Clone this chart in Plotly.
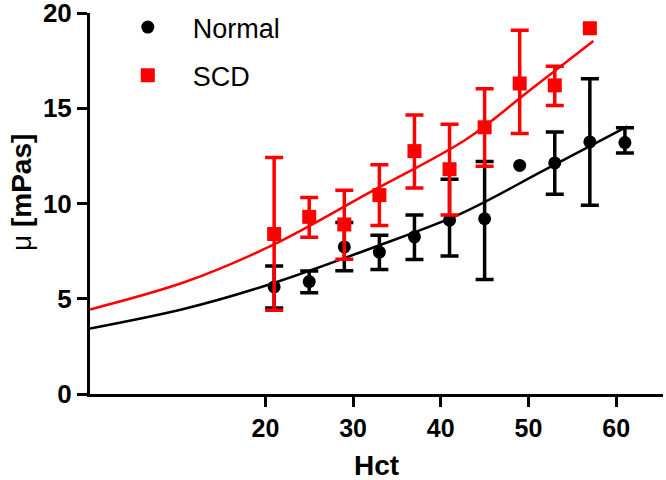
import plotly.graph_objects as go

# ---- data ----
hct_normal = [21, 25, 29, 33, 37, 41, 45, 49, 53, 57, 61]
mu_normal = [5.62, 5.9, 7.72, 7.45, 8.25, 9.12, 9.2, 12.0, 12.13, 13.23, 13.2]
err_up_normal = [1.1, 0.56, 1.28, 0.88, 1.14, 2.15, 3.0, None, 1.62, 3.32, 0.78]
err_dn_normal = [1.1, 0.58, 1.25, 0.91, 1.19, 1.87, 3.19, None, 1.64, 3.32, 0.55]

hct_scd = [21, 25, 29, 33, 37, 41, 45, 49, 53, 57]
mu_scd = [8.4, 9.3, 8.9, 10.44, 12.75, 11.8, 14.0, 16.3, 16.2, 19.2]
err_up_scd = [4.02, 1.02, 1.8, 1.6, 1.9, 2.36, 2.03, 2.8, 1.0, None]
err_dn_scd = [4.0, 1.07, 1.83, 1.6, 1.93, 2.41, 2.04, 2.62, 1.05, None]

# fitted curves
fit_x_normal = [0, 10.9, 20.7, 32, 42.3, 51.8, 61.3]
fit_y_normal = [3.44, 4.49, 5.79, 7.64, 9.47, 11.75, 14.05]
fit_x_scd = [0, 10.9, 20.8, 32, 43, 49.9, 57.4]
fit_y_scd = [4.44, 5.89, 7.81, 10.61, 13.4, 15.85, 18.53]

x_ticks = [20, 30, 40, 50, 60]
y_ticks = [0, 5, 10, 15, 20]

RED = "#ff0000"
BLACK = "#000000"
FONT = "Arial, Liberation Sans, sans-serif"

W, H = 666, 480
ML, MR, MT, MB = 90, 3, 13, 86
X_MAX = 65 * (W - ML - MR) / 570.0  # keep the reference's px-per-unit scale

plot_w = W - ML - MR
plot_h = H - MT - MB


def split(xs, ys, up, dn):
    """Points with error bars, and points shown without error bars."""
    with_err = [i for i in range(len(xs)) if up[i] is not None]
    no_err = [i for i in range(len(xs)) if up[i] is None]
    a = ([xs[i] for i in with_err], [ys[i] for i in with_err],
         [up[i] for i in with_err], [dn[i] for i in with_err])
    b = ([xs[i] for i in no_err], [ys[i] for i in no_err])
    return a, b


fig = go.Figure()


def add_series(name, group, xs, ys, up, dn, color, symbol, size):
    (ex, ey, eu, ed), (nx, ny) = split(xs, ys, up, dn)
    fig.add_trace(go.Scatter(
        x=ex, y=ey, mode="markers", name=name, legendgroup=group,
        marker=dict(symbol=symbol, size=size, color=color),
        error_y=dict(type="data", array=eu, arrayminus=ed, symmetric=False,
                     color=color, thickness=3.5, width=9),
    ))
    fig.add_trace(go.Scatter(
        x=nx, y=ny, mode="markers", name=name, legendgroup=group, showlegend=False,
        marker=dict(symbol=symbol, size=size, color=color),
    ))


add_series("Normal", "n", hct_normal, mu_normal, err_up_normal, err_dn_normal,
           BLACK, "circle", 13)
fig.add_trace(go.Scatter(
    x=fit_x_normal, y=fit_y_normal, mode="lines", showlegend=False,
    line=dict(color=BLACK, width=2.5, shape="spline"),
))
add_series("SCD", "s", hct_scd, mu_scd, err_up_scd, err_dn_scd,
           RED, "square", 14)
fig.add_trace(go.Scatter(
    x=fit_x_scd, y=fit_y_scd, mode="lines", showlegend=False,
    line=dict(color=RED, width=2.5, shape="spline"),
))

fig.update_layout(
    width=W, height=H,
    margin=dict(l=ML, r=MR, t=MT, b=MB),
    paper_bgcolor="white", plot_bgcolor="white",
    font=dict(family=FONT, color="black"),
    showlegend=True,
    legend=dict(
        x=12.8 / plot_w, y=1 + 10.0 / plot_h, xanchor="left", yanchor="top",
        font=dict(family=FONT, size=27, color="black"),
        itemwidth=80, tracegroupgap=10, traceorder="grouped",
        bgcolor="rgba(0,0,0,0)",
    ),
    xaxis=dict(
        range=[0, X_MAX], tickvals=x_ticks, showgrid=False, zeroline=False,
        showline=True, linecolor="black", linewidth=3, automargin=False,
        ticks="outside", ticklen=10, tickwidth=3, tickcolor="black",
        ticklabelstandoff=0, ticklabeloverflow="allow",
        tickfont=dict(family=FONT, size=25, weight="bold", color="black"),
    ),
    yaxis=dict(
        range=[0, 20], tickvals=y_ticks, showgrid=False, zeroline=False,
        showline=True, linecolor="black", linewidth=3, automargin=False,
        ticks="outside", ticklen=10, tickwidth=3, tickcolor="black",
        ticklabeloverflow="allow",
        tickfont=dict(family=FONT, size=26, weight="bold", color="black"),
    ),
    annotations=[
        dict(text="Hct", xref="paper", yref="paper",
             x=(376 - ML) / plot_w, y=-(465 - (H - MB)) / plot_h,
             xanchor="center", yanchor="middle", showarrow=False,
             font=dict(family=FONT, size=28, weight="bold", color="black")),
        dict(text="μ <b>[mPas]</b>", xref="paper", yref="paper",
             x=-(ML - 21) / plot_w, y=((H - MB) - 193) / plot_h,
             xanchor="center", yanchor="middle", showarrow=False, textangle=-90,
             font=dict(family=FONT, size=28, color="black")),
    ],
)

# remove the browser's default body margin so the figure sits at the page origin
fig.write_html("out.html", config={"displayModeBar": False},
               post_script="document.body.style.margin='0';")
